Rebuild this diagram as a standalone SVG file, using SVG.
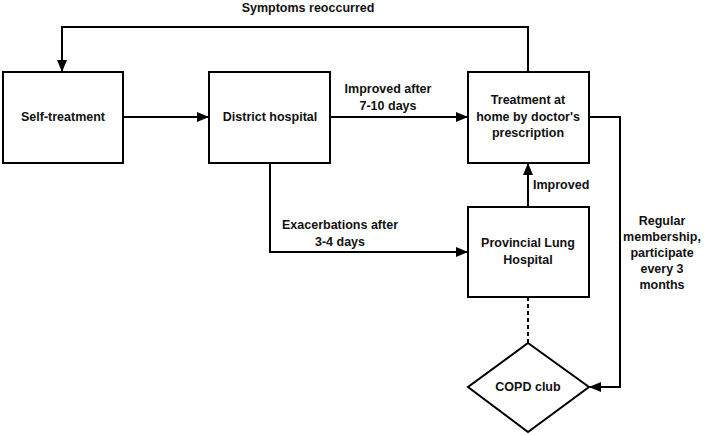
<svg xmlns="http://www.w3.org/2000/svg" width="709" height="435" viewBox="0 0 709 435">
<style>
.box{fill:#fff;stroke:#000;stroke-width:2}
.c{fill:none;stroke:#000;stroke-width:2}
.d{fill:none;stroke:#000;stroke-width:2;stroke-dasharray:4,3}
text{font-family:"Liberation Sans",Arial,sans-serif;font-size:12.5px;font-weight:bold;fill:#111}
.m{text-anchor:middle}
</style>
<defs>
<marker id="ah" markerWidth="12" markerHeight="10" refX="11" refY="5" orient="auto" markerUnits="userSpaceOnUse">
<path d="M0,0 L12,5 L0,10 z" fill="#000"/>
</marker>
</defs>
<g id="connectors">
<path class="c" d="M528,72 V27 H62 V71" marker-end="url(#ah)"/>
<path class="c" d="M123,117 H208" marker-end="url(#ah)"/>
<path class="c" d="M330,117 H467" marker-end="url(#ah)"/>
<path class="c" d="M270,163 V252 H467" marker-end="url(#ah)"/>
<path class="c" d="M528,207 V164" marker-end="url(#ah)"/>
<path class="c" d="M589,117 H620 V387 H590" marker-end="url(#ah)"/>
<path class="d" d="M528,297 V343"/>
<text class="m" x="308" y="12">Symptoms reoccurred</text>
<text class="m" x="388" y="93">Improved after</text>
<text class="m" x="388" y="110">7-10 days</text>
<text class="m" x="340" y="229">Exacerbations after</text>
<text class="m" x="340" y="246">3-4 days</text>
<text x="533" y="189">Improved</text>
<text class="m" x="662" y="225">Regular</text>
<text class="m" x="662" y="241">membership,</text>
<text class="m" x="662" y="257">participate</text>
<text class="m" x="662" y="273">every 3</text>
<text class="m" x="662" y="289">months</text>
</g>
<g id="self-treatment">
<rect class="box" x="3" y="72" width="120" height="91"/>
<text class="m" x="63" y="121">Self-treatment</text>
</g>
<g id="district-hospital">
<rect class="box" x="209" y="72" width="121" height="91"/>
<text class="m" x="270" y="121">District hospital</text>
</g>
<g id="treatment-home">
<rect class="box" x="468" y="72" width="121" height="91"/>
<text class="m" x="528" y="104">Treatment at</text>
<text class="m" x="528" y="121">home by doctor's</text>
<text class="m" x="528" y="137">prescription</text>
</g>
<g id="provincial-lung-hospital">
<rect class="box" x="468" y="207" width="121" height="90"/>
<text class="m" x="528" y="247">Provincial Lung</text>
<text class="m" x="528" y="264">Hospital</text>
</g>
<g id="copd-club">
<polygon class="box" points="528,343 589,387 528,432 468,387"/>
<text class="m" x="528" y="391">COPD club</text>
</g>
</svg>
